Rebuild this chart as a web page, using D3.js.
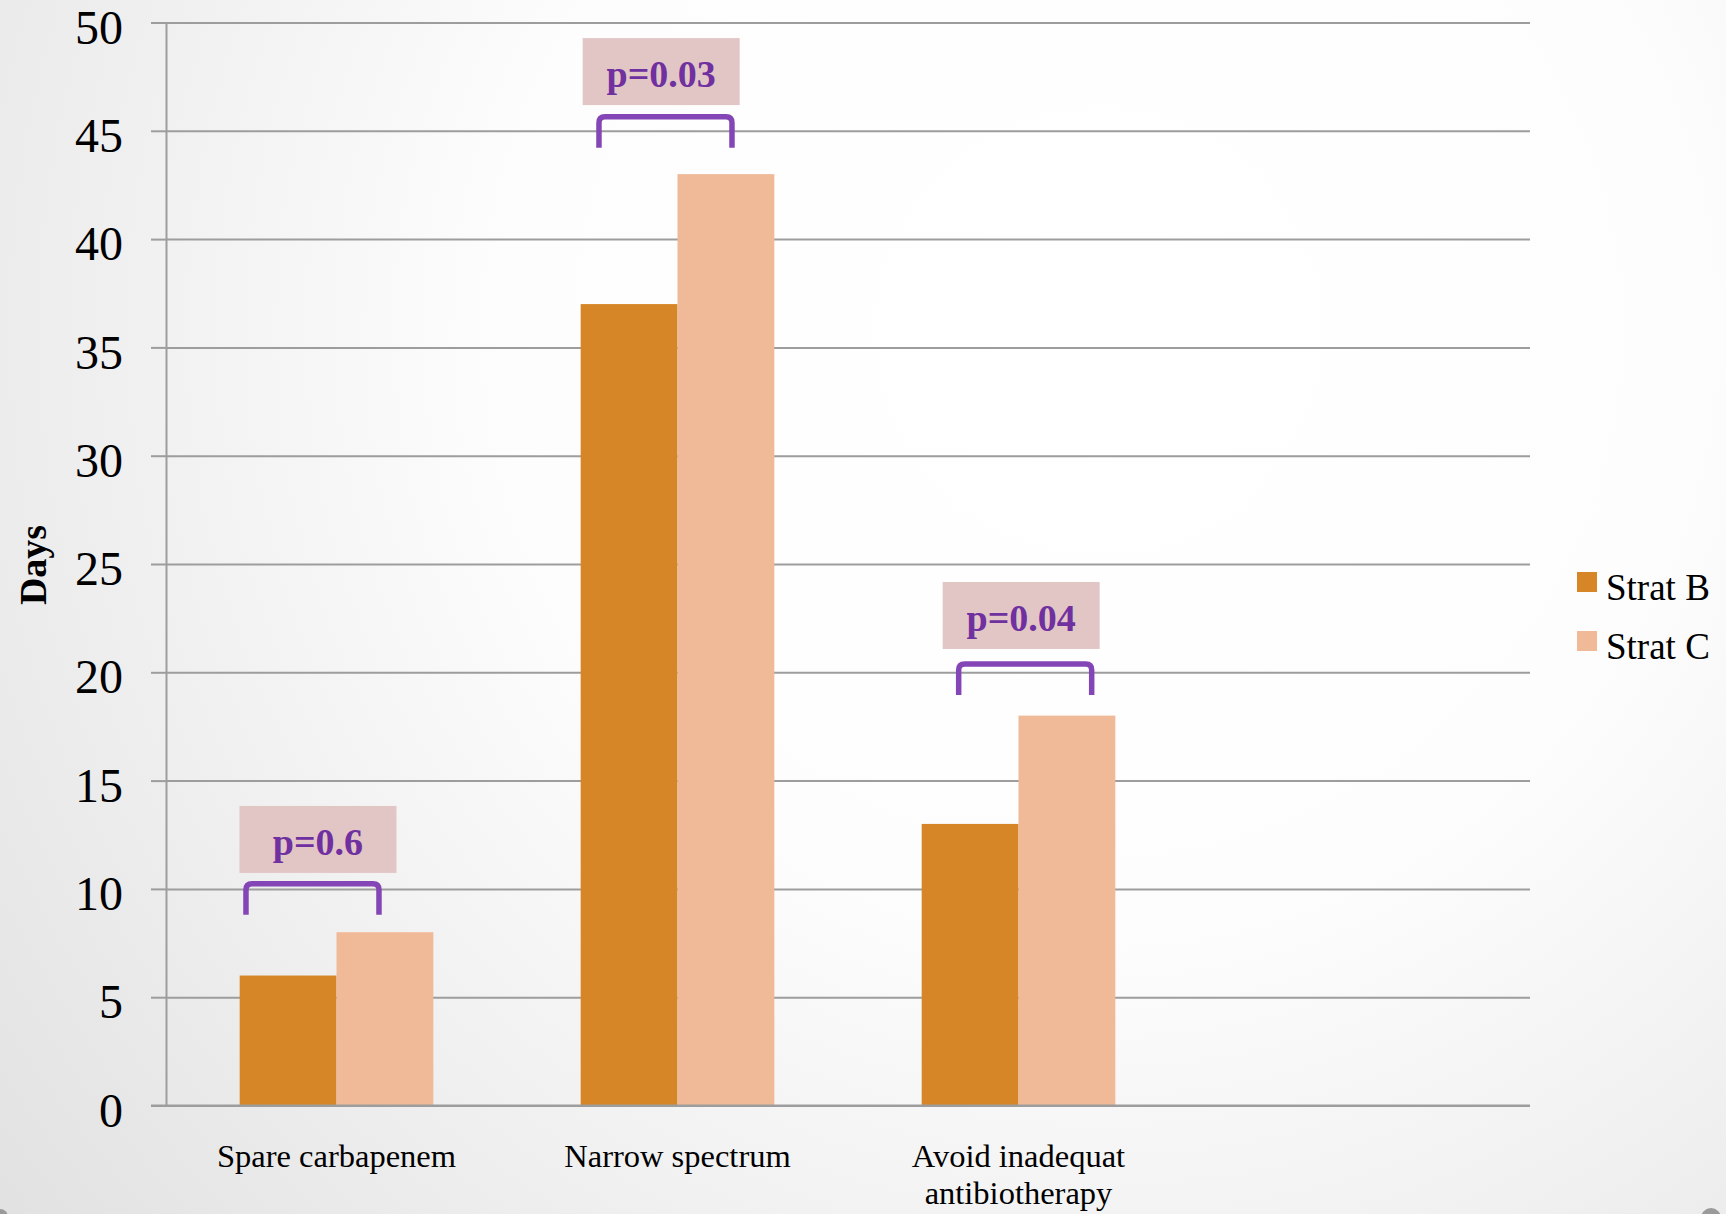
<!DOCTYPE html>
<html>
<head>
<meta charset="utf-8">
<script src="https://cdn.jsdelivr.net/npm/d3@7"></script>
<style>
  html, body { margin: 0; padding: 0; background: #fff; }
  svg { display: block; }
  text { font-family: "Liberation Serif", "Times New Roman", serif; }
</style>
</head>
<body>
<svg id="chart" width="1726" height="1214"></svg>
<script>
// ---- data ----
const categories = ["Spare carbapenem", "Narrow spectrum", "Avoid inadequat antibiotherapy", ""];
const categoryLines = [["Spare carbapenem"], ["Narrow spectrum"], ["Avoid inadequat", "antibiotherapy"], []];
const seriesNames = ["Strat B", "Strat C"];
const stratB = [6, 37, 13];
const stratC = [8, 43, 18];
const yTicks = [0, 5, 10, 15, 20, 25, 30, 35, 40, 45, 50];
const pLabels = ["p=0.6", "p=0.03", "p=0.04"];
const bracketLevel = [10.24, 45.65, 20.38];   // y value of bracket top (days)
const boxLevel = [13.83, 49.28, 24.17];       // y value of label box top (days)

// ---- layout / styles ----
const W = 1726, H = 1214;
const plotLeft = 166, plotRight = 1530, plotTop = 22.5, plotBottom = 1105.5;
const colors = ["#D68627", "#F0B998"];
const gridColor = "#9d9d9d";
const boxShift = [-0.2, 2, 21];       // px shift of label box from group start
const bracketShift = [6.3, 18.3, 37]; // px shift of bracket from group start
const svg = d3.select("#chart");

// background gradient
const defs = svg.append("defs");
const rg = defs.append("radialGradient").attr("id", "bg")
  .attr("gradientUnits", "userSpaceOnUse")
  .attr("cx", 1100).attr("cy", 330).attr("r", 1420);
rg.append("stop").attr("offset", "0").attr("stop-color", "#ffffff");
rg.append("stop").attr("offset", "0.42").attr("stop-color", "#fdfdfd");
rg.append("stop").attr("offset", "1").attr("stop-color", "#e1e1e1");
svg.append("rect").attr("width", W).attr("height", H).attr("fill", "url(#bg)");

// corner decorations
svg.append("circle").attr("cx", 1711).attr("cy", 1218).attr("r", 10).attr("fill", "#9a9a9a");
svg.append("circle").attr("cx", 0).attr("cy", 1217).attr("r", 8).attr("fill", "#9a9a9a");

// scales
const x = d3.scaleBand().domain(categories).range([plotLeft, plotRight]).paddingInner(0).paddingOuter(0);
const xs = d3.scaleBand().domain(seriesNames).range([0, x.bandwidth()]).paddingInner(0).paddingOuter(0.761);
const y = d3.scaleLinear().domain([0, 50]).range([plotBottom, plotTop]);

// gridlines + y axis
const yAxis = d3.axisLeft(y).tickValues(yTicks).tickSize(15).tickPadding(28).tickFormat(d3.format("d"));
const gy = svg.append("g").attr("transform", `translate(${plotLeft},0)`).call(yAxis);
gy.select(".domain").attr("stroke", gridColor).attr("stroke-width", 2);
gy.selectAll(".tick line").attr("stroke", gridColor).attr("stroke-width", 2);
gy.selectAll(".tick text")
  .attr("font-family", '"Liberation Serif", "Times New Roman", serif')
  .attr("font-size", 48).attr("fill", "#000")
  .attr("dy", "0.43em");
gy.selectAll(".tick").append("line")
  .attr("x1", 0).attr("x2", plotRight - plotLeft)
  .attr("stroke", gridColor).attr("stroke-width", 2);

// bars
const rows = categories.slice(0, 3).map((c, i) => ({ cat: c, vals: [stratB[i], stratC[i]] }));
const groups = svg.append("g").selectAll("g").data(rows).join("g")
  .attr("transform", d => `translate(${x(d.cat)},0)`);
groups.selectAll("rect").data(d => d.vals.map((v, k) => ({ s: seriesNames[k], v, k })))
  .join("rect")
  .attr("x", d => xs(d.s)).attr("width", xs.bandwidth())
  .attr("y", d => y(d.v)).attr("height", d => y(0) - y(d.v))
  .attr("fill", d => colors[d.k]);

// x baseline
svg.append("line").attr("x1", plotLeft - 15).attr("x2", plotRight)
  .attr("y1", y(0)).attr("y2", y(0)).attr("stroke", gridColor).attr("stroke-width", 2);

// category labels
categoryLines.forEach((lines, i) => {
  const cx = x(categories[i]) + x.bandwidth() / 2;
  lines.forEach((ln, j) => {
    svg.append("text").attr("x", cx).attr("y", 1167 + j * 37)
      .attr("text-anchor", "middle").attr("font-size", 32.5).attr("fill", "#000").text(ln);
  });
});

// y title
svg.append("text").attr("transform", `translate(46,565) rotate(-90)`)
  .attr("text-anchor", "middle").attr("font-size", 38).attr("font-weight", "bold")
  .attr("fill", "#000").text("Days");

// significance annotations
pLabels.forEach((lab, i) => {
  const g0 = x(categories[i]) + xs(seriesNames[0]);
  const gx = g0 + boxShift[i];
  const bt = y(boxLevel[i]);
  const yt = y(bracketLevel[i]);
  const bx1 = g0 + bracketShift[i], bx2 = bx1 + 133, leg = 31, r = 6;
  svg.append("rect").attr("x", gx).attr("y", bt).attr("width", 157).attr("height", 67)
    .attr("fill", "#E2C6C6");
  svg.append("text").attr("x", gx + 78.5).attr("y", bt + 49)
    .attr("text-anchor", "middle").attr("font-size", 38).attr("font-weight", "bold")
    .attr("fill", "#7030A0").text(lab);
  const p = d3.path();
  p.moveTo(bx1, yt + leg);
  p.lineTo(bx1, yt + r);
  p.quadraticCurveTo(bx1, yt, bx1 + r, yt);
  p.lineTo(bx2 - r, yt);
  p.quadraticCurveTo(bx2, yt, bx2, yt + r);
  p.lineTo(bx2, yt + leg);
  svg.append("path").attr("d", p.toString()).attr("fill", "none")
    .attr("stroke", "#8446B6").attr("stroke-width", 5.5);
});

// legend
const lg = svg.append("g");
seriesNames.forEach((s, i) => {
  lg.append("rect").attr("x", 1577).attr("y", 572 + i * 59).attr("width", 20).attr("height", 20)
    .attr("fill", colors[i]);
  lg.append("text").attr("x", 1606).attr("y", 599.5 + i * 59)
    .attr("font-size", 37).attr("fill", "#000").text(s);
});
</script>
</body>
</html>
